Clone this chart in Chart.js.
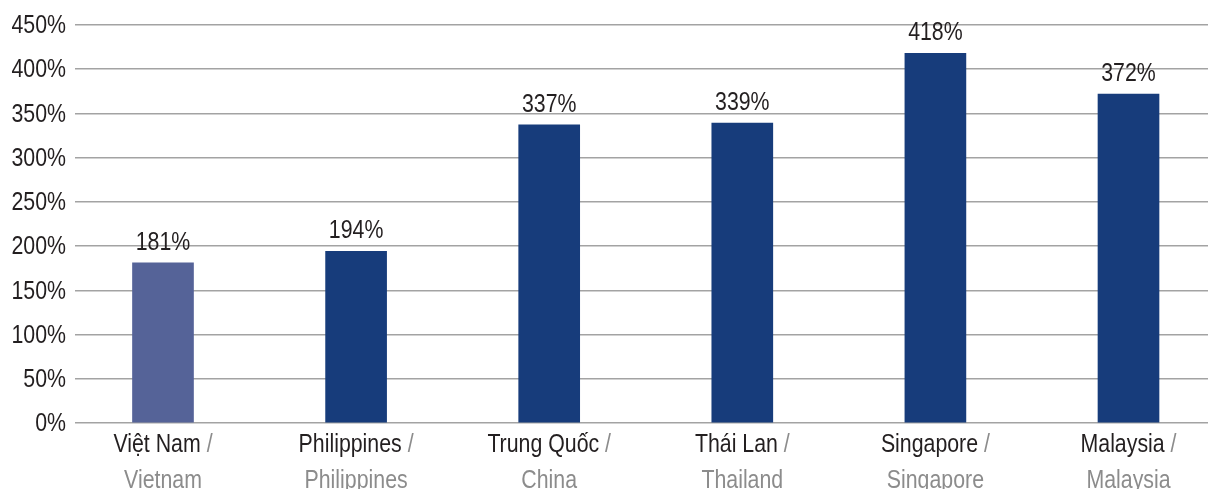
<!DOCTYPE html>
<html>
<head>
<meta charset="utf-8">
<script src="https://cdn.jsdelivr.net/npm/chart.js@4/dist/chart.umd.min.js"></script>
<style>
  html, body { margin: 0; padding: 0; background: #fff; overflow: hidden; }
  #wrap { position: relative; width: 1208px; height: 489px; }
</style>
</head>
<body>
<div id="wrap"><canvas id="c" width="1208" height="489"></canvas></div>
<script>
const categoriesVi = ["Việt Nam", "Philippines", "Trung Quốc", "Thái Lan", "Singapore", "Malaysia"];
const categoriesEn = ["Vietnam", "Philippines", "China", "Thailand", "Singapore", "Malaysia"];
const values = [181, 194, 337, 339, 418, 372];
const barColors = ["#556398", "#173c7b", "#173c7b", "#173c7b", "#173c7b", "#173c7b"];
const yTicks = [0, 50, 100, 150, 200, 250, 300, 350, 400, 450];

const FONT = "'Liberation Sans', Arial, sans-serif";
const NARROW = 0.82; // horizontal squeeze to emulate a condensed face
const DARK = "#231f20";
const GREY = "#8c8c8c";

// draw text horizontally condensed; align: 'left' | 'center' | 'right'
function narrowText(ctx, text, x, y, align) {
  const w = ctx.measureText(text).width * NARROW;
  let sx = x;
  if (align === 'center') sx = x - w / 2;
  else if (align === 'right') sx = x - w;
  ctx.save();
  ctx.translate(sx, y);
  ctx.scale(NARROW, 1);
  ctx.textAlign = 'left';
  ctx.fillText(text, 0, 0);
  ctx.restore();
  return w;
}

const labelPlugin = {
  id: 'labels',
  afterDatasetsDraw(chart) {
    const ctx = chart.ctx;
    const xs = chart.scales.x;
    const ys = chart.scales.y;
    const area = chart.chartArea;
    ctx.save();
    ctx.font = "26px " + FONT;
    ctx.textBaseline = "middle";
    // y tick labels
    ctx.fillStyle = DARK;
    yTicks.forEach(t => {
      narrowText(ctx, t + "%", area.left - 9, ys.getPixelForValue(t) + 1, 'right');
    });
    ctx.textBaseline = "alphabetic";
    values.forEach((v, i) => {
      const x = xs.getPixelForValue(i);
      ctx.fillStyle = DARK;
      narrowText(ctx, v + "%", x, ys.getPixelForValue(v) - 13, 'center');
      const name = categoriesVi[i];
      const slash = " /";
      const w1 = ctx.measureText(name).width * NARROW;
      const w2 = ctx.measureText(slash).width * NARROW;
      const start = x - (w1 + w2) / 2;
      ctx.fillStyle = DARK;
      narrowText(ctx, name, start, area.bottom + 29, 'left');
      ctx.fillStyle = GREY;
      narrowText(ctx, slash, start + w1, area.bottom + 29, 'left');
      narrowText(ctx, categoriesEn[i], x, area.bottom + 65, 'center');
    });
    ctx.restore();
  }
};

new Chart(document.getElementById('c'), {
  type: 'bar',
  data: {
    datasets: [{
      data: values.map((v, i) => ({ x: i, y: v })),
      backgroundColor: barColors,
      borderWidth: 0,
      barThickness: 61
    }]
  },
  options: {
    responsive: false,
    animation: false,
    layout: { padding: { top: 25, bottom: 66, right: 0, left: 0 } },
    plugins: { legend: { display: false }, tooltip: { enabled: false } },
    scales: {
      x: {
        type: 'linear',
        offset: false,
        min: -0.4557,
        max: 5.4117,
        display: false
      },
      y: {
        min: 0,
        max: 450,
        afterBuildTicks(scale) { scale.ticks = yTicks.map(v => ({ value: v })); },
        afterFit(scale) { scale.width = 75; },
        border: { display: false },
        grid: { color: "#a3a3a3", lineWidth: 1.5, drawTicks: false },
        ticks: { display: false }
      }
    }
  },
  plugins: [labelPlugin]
});
</script>
</body>
</html>
